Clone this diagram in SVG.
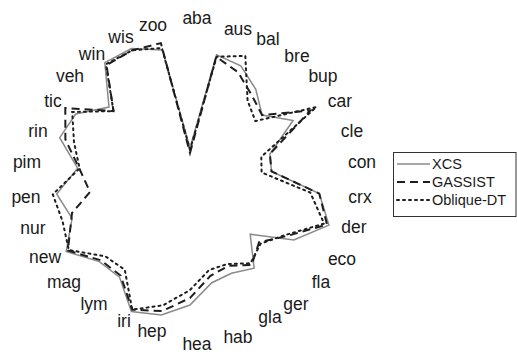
<svg xmlns="http://www.w3.org/2000/svg" width="517" height="354" viewBox="0 0 517 354">
<style>
text{font-family:"Liberation Sans",Arial,sans-serif;fill:#1a1a1a}
.lab{font-size:17.5px;text-anchor:middle}
.leg{font-size:14.5px}
.xcs{fill:none;stroke:#8a8a8a;stroke-width:1.5;stroke-linejoin:miter}
.gas{fill:none;stroke:#1e1e1e;stroke-width:2;stroke-dasharray:8 5}
.obl{fill:none;stroke:#1e1e1e;stroke-width:2;stroke-dasharray:2 4;stroke-linecap:round}
</style>
<rect width="517" height="354" fill="#fff"/>
<g id="labels">
<text class="lab" x="197" y="24">aba</text>
<text class="lab" x="238" y="35">aus</text>
<text class="lab" x="268" y="45">bal</text>
<text class="lab" x="297" y="62">bre</text>
<text class="lab" x="323" y="82">bup</text>
<text class="lab" x="340" y="107">car</text>
<text class="lab" x="352" y="137">cle</text>
<text class="lab" x="362" y="168">con</text>
<text class="lab" x="360" y="203">crx</text>
<text class="lab" x="354" y="233">der</text>
<text class="lab" x="342" y="265">eco</text>
<text class="lab" x="321" y="288">fla</text>
<text class="lab" x="296" y="310">ger</text>
<text class="lab" x="270" y="323">gla</text>
<text class="lab" x="238" y="343">hab</text>
<text class="lab" x="197" y="350">hea</text>
<text class="lab" x="152" y="337">hep</text>
<text class="lab" x="124" y="327">iri</text>
<text class="lab" x="94" y="310">lym</text>
<text class="lab" x="64" y="288">mag</text>
<text class="lab" x="45" y="263">new</text>
<text class="lab" x="33" y="234">nur</text>
<text class="lab" x="26" y="203">pen</text>
<text class="lab" x="27" y="168">pim</text>
<text class="lab" x="38" y="137">rin</text>
<text class="lab" x="53" y="107">tic</text>
<text class="lab" x="70" y="82">veh</text>
<text class="lab" x="92" y="60">win</text>
<text class="lab" x="121" y="43">wis</text>
<text class="lab" x="153" y="31">zoo</text>
</g>
<g id="series">
<polygon id="xcs" class="xcs" points="190,148 216.6,54.8 240.8,65.8 255.8,89.4 262.1,115.1 293.1,120.5 269.9,154 271.5,171.4 319.3,193.6 328.9,225.1 293.9,240 250.2,234.2 254.1,268.2 231.5,273.2 211.8,282.7 190,305 161.3,315 131.4,311.5 119.5,277.1 99.3,261.6 66.2,251.5 72.1,218.3 56.7,194 77.6,168.2 59.7,137.7 75.7,114 109,107.1 104.8,62.7 131.4,48.5 162.3,49.9"/>
<polygon id="gassist" class="gas" points="190,153 216.2,56.8 238,72.2 251.7,95.1 262.1,115.1 310.4,110.5 269.9,154 271.5,171.4 319.3,193.6 327,224.5 287,236 259.1,242.2 251.7,264.9 228.2,265.9 210.4,275.9 190,298 162.1,311.1 132.2,309.7 120.6,275.5 100.8,260.3 67.9,250.5 72,213 90,192 80,170 65.4,139.5 65.3,108 113.5,111.1 106.5,65.1 132.2,50.3 160.9,43.1"/>
<polygon id="oblique" class="obl" points="190,150 216.6,56.8 245.3,55.8 247.6,100.7 255.4,121.1 316.4,107 261.3,156.8 261.6,172.5 310.3,192.6 324.1,223.6 285.3,235 260.6,243.6 250.5,263.3 227.4,264 209.1,270 190,290 163.4,305.2 132.2,309.7 124.8,269.8 105.3,256.3 68.8,250 62.6,221.4 52.8,194.4 79.6,168.4 74,142.3 72.2,112 113.5,111.1 105.9,64.3 132.2,50.3 161.9,48"/>
</g>
<g id="legend">
<rect x="393.5" y="152.5" width="122.5" height="64" fill="#fff" stroke="#333" stroke-width="1"/>
<line class="xcs" x1="397" y1="164" x2="430" y2="164"/>
<line class="gas" x1="397" y1="182" x2="430" y2="182"/>
<line class="obl" x1="397" y1="200" x2="430" y2="200"/>
<text class="leg" x="432" y="169">XCS</text>
<text class="leg" x="432" y="187">GASSIST</text>
<text class="leg" x="432" y="205">Oblique-DT</text>
</g>
</svg>
